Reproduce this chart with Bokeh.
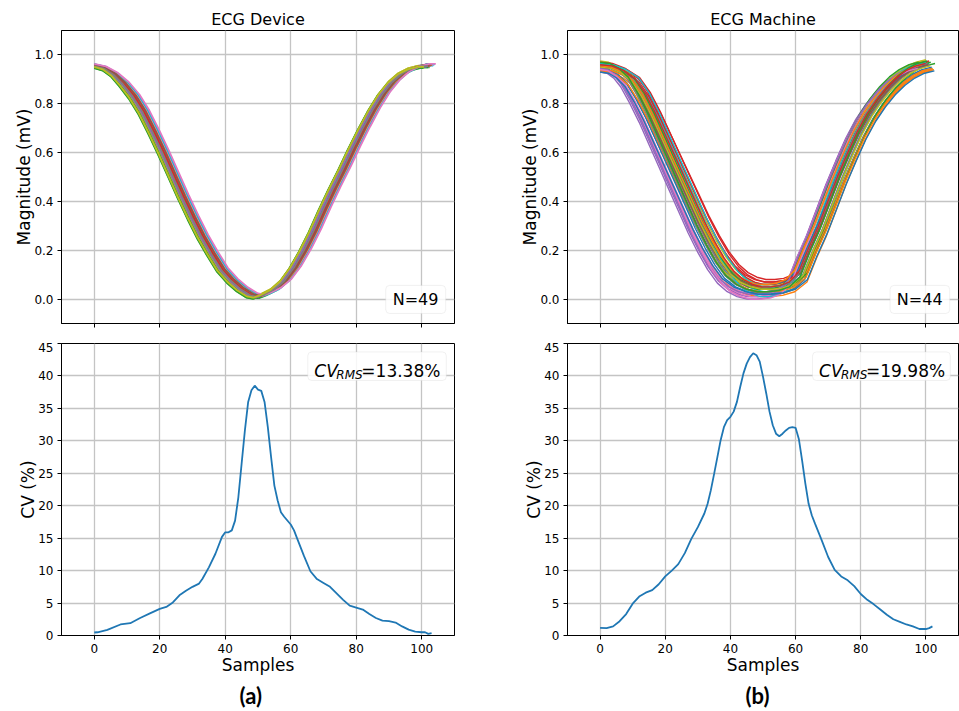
import numpy as np
from bokeh.plotting import figure
from bokeh.layouts import gridplot
from bokeh.models import Range1d, FixedTicker, Label, BoxAnnotation, Title, PrintfTickFormatter
from bokeh.embed import file_html
from bokeh.resources import INLINE

# ---------------- data ----------------
TAB10 = ["#1f77b4", "#ff7f0e", "#2ca02c", "#d62728", "#9467bd",
         "#8c564b", "#e377c2", "#7f7f7f", "#bcbd22", "#17becf"]

x_ticks = [0, 20, 40, 60, 80, 100]
mag_ticks = [0.0, 0.2, 0.4, 0.6, 0.8, 1.0]
cv_ticks = [0, 5, 10, 15, 20, 25, 30, 35, 40, 45]

# ECG Device: typical beat template (mV)
dev_base_x = [0, 3, 6, 9, 12, 15, 18, 21, 24, 27, 30, 33, 36, 39, 42, 45, 48, 50,
              52, 55, 58, 61, 64, 67, 70, 73, 76, 79, 82, 85, 88, 91, 94, 97, 100, 102]
dev_base_y = [0.955, 0.945, 0.92, 0.88, 0.83, 0.765, 0.685, 0.6, 0.51, 0.42, 0.335,
              0.255, 0.185, 0.12, 0.075, 0.04, 0.015, 0.01, 0.02, 0.04, 0.075, 0.13,
              0.2, 0.28, 0.37, 0.455, 0.535, 0.62, 0.7, 0.775, 0.84, 0.89, 0.925,
              0.945, 0.955, 0.955]
# per-beat lag on the falling / rising edge (samples) and level offset (mV)
dev_lag_down = [0.2, -0.6, -1.4, 0.5, 1.0, -0.3, 0.8, -0.9, -1.3, 1.2,
                -0.5, 0.4, 0.2, 0.9, -0.2, 0.6, -0.8, 1.1, -1.0, 1.3,
                0.7, -0.4, -1.5, 0.0, 1.3, -0.7, 0.5, 0.2, -1.1, 1.4,
                -0.1, 0.9, -0.3, 0.4, -0.6, 1.0, 1.2, -0.9, -1.2, 1.5,
                -0.3, 0.8, -1.2, 0.1, -0.5, 0.7, 1.8, -0.2, -1.4]
dev_lag_up = [0.4, -0.5, -1.6, 0.8, 1.3, -0.1, 1.0, -1.0, -1.2, 1.6,
              -0.4, 0.7, 0.4, 1.2, 0.1, 0.9, -0.9, 1.4, -1.2, 1.5,
              1.0, -0.2, -1.5, 0.2, 1.7, -0.8, 0.8, 0.4, -1.0, 1.9,
              0.1, 1.2, -0.1, 0.6, -0.5, 1.3, 1.4, -0.9, -1.0, 2.0,
              -0.2, 1.1, -1.3, 0.3, -0.6, 1.0, 2.3, 0.0, -1.3]
dev_level = [0.004, -0.003, -0.008, 0.002, 0.006, -0.001, 0.003, -0.005, 0.0, 0.005,
             -0.002, 0.001, -0.006, 0.004, -0.004, 0.002, -0.003, 0.005, -0.007, 0.001,
             0.003, -0.002, -0.009, 0.0, 0.006, -0.004, 0.002, 0.001, -0.005, 0.007,
             -0.001, 0.004, -0.006, 0.002, -0.003, 0.005, 0.003, -0.004, 0.001, 0.006,
             -0.002, 0.003, -0.005, 0.0, -0.002, 0.004, 0.008, -0.001, -0.004]

# ECG Machine: typical beat template (mV)
mac_base_x = [0, 3, 6, 9, 12, 15, 18, 21, 24, 27, 30, 33, 36, 39, 42, 45, 48, 51, 54,
              57, 60, 63, 66, 69, 72, 75, 78, 81, 84, 87, 90, 93, 96, 99]
mac_base_y = [0.955, 0.95, 0.93, 0.895, 0.83, 0.75, 0.66, 0.57, 0.48, 0.39, 0.3, 0.22,
              0.15, 0.095, 0.06, 0.04, 0.03, 0.03, 0.035, 0.05, 0.09, 0.19, 0.28,
              0.385, 0.49, 0.585, 0.675, 0.75, 0.81, 0.86, 0.9, 0.93, 0.95, 0.96]
mac_lag_down = [0.5, -1.5, 2.0, 3.5, -2.8, 1.0, -2.0, 0.0, 2.5, 1.5,
                -1.0, 1.8, -0.5, 3.6, -2.5, 0.8, -1.6, 0.3, 1.2, 2.8,
                -0.8, 2.2, 0.6, 3.0, -3.0, -0.2, -1.5, 1.4, -1.2, 2.4,
                1.0, -0.3, 1.6, 2.6, -2.6, 0.2, -1.8, -0.6, 0.9, 3.2,
                -1.5, 1.1, -0.4, 2.1]
mac_lag_up = [0.0, 3.5, -0.5, 1.5, -2.6, 0.5, -2.0, 1.0, 0.5, 2.0,
              3.0, 2.6, 2.5, 1.8, -2.3, -1.0, -1.6, 1.5, 0.0, 1.2,
              2.8, 3.0, 3.8, 0.8, -2.8, 0.3, -2.2, 2.2, 1.0, -0.5,
              0.6, 3.2, -1.2, 2.0, -2.0, 1.7, -1.5, 0.4, 2.4, 1.0,
              3.6, -0.3, 1.4, 0.9]
mac_floor = [0.0, -0.02, 0.01, 0.04, -0.02, 0.02, -0.03, 0.01, 0.03, -0.01,
             0.02, -0.01, 0.0, 0.05, -0.02, 0.01, -0.02, 0.02, 0.03, 0.0,
             -0.01, 0.01, 0.02, 0.03, -0.03, 0.0, -0.01, 0.01, 0.02, -0.02,
             0.03, 0.0, 0.01, 0.04, -0.01, 0.02, -0.03, 0.0, 0.01, 0.02,
             -0.01, 0.03, 0.0, 0.02]
mac_top = [0.95, 0.935, 0.96, 0.965, 0.94, 0.955, 0.945, 0.97, 0.95, 0.96,
           0.94, 0.93, 0.965, 0.955, 0.945, 0.95, 0.935, 0.96, 0.97, 0.955,
           0.945, 0.94, 0.96, 0.95, 0.93, 0.965, 0.94, 0.955, 0.975, 0.96,
           0.95, 0.935, 0.965, 0.97, 0.945, 0.955, 0.94, 0.96, 0.95, 0.965,
           0.93, 0.955, 0.97, 0.96]

# Coefficient of variation (%)
dev_cv_x = [0, 1, 4, 8, 11, 14, 17, 20, 22, 24, 26, 28, 30, 32, 33, 35, 37, 39, 40, 41,
            42, 43, 44, 45, 46, 47, 48, 49, 50, 51, 52, 53, 54, 55, 56, 57, 58, 60, 61, 62,
            64, 66, 68, 70, 72, 74, 76, 78, 80, 82, 84, 86, 88, 90, 92, 94, 96, 98, 100, 101,
            102, 103]
dev_cv_y = [0.46, 0.5, 0.87, 1.7, 1.9, 2.7, 3.4, 4.1, 4.4, 5.1, 6.2, 6.9, 7.5, 8.0, 8.7,
            10.5, 12.6, 15.2, 15.9, 15.9, 16.2, 17.7, 21.3, 26.5, 31.6, 36.0, 37.8, 38.5,
            37.9, 37.7, 36.0, 32.1, 27.5, 23.1, 20.8, 19.0, 18.3, 17.1, 16.2, 14.9, 12.3,
            9.9, 8.7, 8.1, 7.5, 6.5, 5.5, 4.6, 4.3, 4.0, 3.3, 2.7, 2.3, 2.2, 2.0, 1.4, 0.9,
            0.6, 0.5, 0.5, 0.26, 0.36]
mac_cv_x = [0, 2, 4, 6, 8, 10, 12, 14, 16, 18, 20, 22, 24, 26, 28, 30, 32, 33, 34, 35,
            36, 37, 38, 39, 40, 41, 42, 43, 44, 45, 46, 47, 48, 49, 50, 51, 52, 53, 54, 55,
            56, 57, 58, 59, 60, 61, 62, 63, 64, 65, 66, 68, 70, 72, 74, 76, 78, 80, 82, 84,
            86, 88, 90, 92, 94, 96, 98, 100, 101, 102]
mac_cv_y = [1.18, 1.13, 1.4, 2.2, 3.3, 4.9, 6.0, 6.6, 7.0, 7.9, 9.1, 10.0, 11.0, 12.7,
            14.9, 16.7, 18.8, 20.3, 22.4, 24.9, 27.5, 30.1, 32.1, 33.2, 33.7, 34.5, 36.0,
            38.3, 40.4, 41.9, 42.9, 43.5, 43.2, 42.2, 39.9, 37.3, 34.5, 32.4, 31.1, 30.7,
            31.1, 31.6, 32.0, 32.1, 32.0, 30.3, 27.0, 23.4, 20.3, 18.5, 17.2, 14.7, 12.1,
            10.1, 9.1, 8.5, 7.6, 6.4, 5.5, 4.8, 4.0, 3.2, 2.5, 2.1, 1.7, 1.4, 1.0, 1.0,
            1.13, 1.4]

titles = ["ECG Device", "ECG Machine"]
n_labels = ["N=49", "N=44"]
cv_values = ["=13.38%", "=19.98%"]
panel_tags = ["(a)", "(b)"]

FONT = "DejaVu Sans"


def style(p, ticks_y, fmt, show_xlabels):
    p.outline_line_color = "black"
    p.outline_line_alpha = 1
    p.outline_line_width = 1
    p.background_fill_color = "white"
    p.border_fill_color = "white"
    for ax in (p.xaxis[0], p.yaxis[0]):
        ax.major_tick_out = 4
        ax.major_tick_in = 0
        ax.minor_tick_out = 0
        ax.minor_tick_in = 0
        ax.axis_line_color = "black"
        ax.major_tick_line_color = "black"
        ax.minor_tick_line_color = "black"
        ax.major_label_text_font = FONT
        ax.major_label_text_font_size = "12px"
        ax.major_label_text_color = "black"
        ax.axis_label_text_font = FONT
        ax.axis_label_text_font_size = "17px"
        ax.axis_label_text_font_style = "normal"
        ax.axis_label_text_color = "black"
        ax.major_label_standoff = 4
    p.yaxis.axis_label_standoff = -3
    p.yaxis.ticker = FixedTicker(ticks=ticks_y)
    p.yaxis.formatter = PrintfTickFormatter(format=fmt)
    if show_xlabels:
        p.xaxis.ticker = FixedTicker(ticks=x_ticks)
        p.xaxis.major_label_standoff = 4
        p.xaxis.axis_label_standoff = -1
    else:
        # tick marks only (no tick labels) on the shared x axis of the top row
        p.xaxis.ticker = FixedTicker(ticks=[], minor_ticks=x_ticks)
        p.xaxis.minor_tick_out = 4
    p.xgrid.ticker = FixedTicker(ticks=x_ticks)
    p.ygrid.ticker = FixedTicker(ticks=ticks_y)
    for g in (p.xgrid[0], p.ygrid[0]):
        g.grid_line_color = "#c4c4c4"
        g.grid_line_width = 1.3


def top_fig(col):
    w = 480 if col == 0 else 479
    p = figure(width=w, height=342, x_range=Range1d(-10, 110), y_range=Range1d(-0.1, 1.1),
               output_backend="svg", toolbar_location=None,
               min_border_left=61 if col == 0 else 87,
               min_border_right=26 if col == 0 else 1,
               min_border_top=30, min_border_bottom=19, title=titles[col])
    p.title.align = "center"
    p.title.text_font = FONT
    p.title.text_font_size = "16px"
    p.title.text_font_style = "normal"
    p.title.text_color = "black"
    p.title.standoff = 4
    style(p, mag_ticks, "%.1f", False)
    p.yaxis.axis_label = "Magnitude (mV)"
    return p


def bottom_fig(col):
    w = 480 if col == 0 else 479
    p = figure(width=w, height=369, x_range=Range1d(-10, 110), y_range=Range1d(0, 45),
               output_backend="svg", toolbar_location=None,
               min_border_left=61 if col == 0 else 87,
               min_border_right=26 if col == 0 else 1,
               min_border_top=1, min_border_bottom=76)
    style(p, cv_ticks, "%d", True)
    p.yaxis.axis_label = "CV (%)"
    p.xaxis.axis_label = "Samples"
    t = Title(text=panel_tags[col], align="left", text_font="Lato",
              text_font_size="22px", text_font_style="bold", text_color="black",
              text_line_height=1.0, standoff=5, offset=178)
    p.add_layout(t, "below")
    return p


# --- top-left: ECG Device beats
tl = top_fig(0)
bx = np.array(dev_base_x, dtype=float)
by = np.array(dev_base_y, dtype=float)
for i in range(len(dev_lag_down)):
    lag = np.interp(bx, [0, 10, 40, 60, 102], [0, dev_lag_down[i], dev_lag_down[i],
                                                dev_lag_up[i], dev_lag_up[i]])
    tl.line(bx + lag, by + dev_level[i], line_color=TAB10[i % 10], line_width=1.8)

# --- top-right: ECG Machine beats
tr = top_fig(1)
mx = np.array(mac_base_x, dtype=float)
my = np.array(mac_base_y, dtype=float)
mmin, mtop = min(mac_base_y), mac_base_y[0]
for i in range(len(mac_lag_down)):
    lag = np.interp(mx, [0, 10, 40, 60, 99], [0, mac_lag_down[i], mac_lag_down[i],
                                               mac_lag_up[i], mac_lag_up[i]])
    lo = mmin + mac_floor[i]
    yy = lo + (my - mmin) / (mtop - mmin) * (mac_top[i] - lo)
    tr.line(mx + lag, yy, line_color=TAB10[i % 10], line_width=1.4)

for p, n in ((tl, n_labels[0]), (tr, n_labels[1])):
    p.add_layout(BoxAnnotation(left=89.0, right=107.3, bottom=-0.059, top=0.056,
                               fill_color="white", fill_alpha=0.85,
                               line_color="#d0d0d0", line_width=1, border_radius=4))
    p.add_layout(Label(x=98.1, y=-0.001, text=n, text_align="center",
                       text_baseline="middle", text_font=FONT, text_font_size="16px",
                       text_color="black"))

# --- bottom: CV curves
bl = bottom_fig(0)
bl.line(dev_cv_x, dev_cv_y, line_color=TAB10[0], line_width=1.8)
br = bottom_fig(1)
br.line(mac_cv_x, mac_cv_y, line_color=TAB10[0], line_width=1.8)

for p, v in ((bl, cv_values[0]), (br, cv_values[1])):
    p.add_layout(BoxAnnotation(left=65.2, right=107.5, bottom=39.3, top=43.7,
                               fill_color="white", fill_alpha=0.85,
                               line_color="#d0d0d0", line_width=1, border_radius=4))
    p.add_layout(Label(x=67.2, y=40.75, text="CV", text_align="left",
                       text_baseline="alphabetic", text_font=FONT,
                       text_font_size="17px", text_font_style="italic", text_color="black"))
    p.add_layout(Label(x=67.2, y=40.15, x_offset=22, text="RMS", text_align="left",
                       text_baseline="alphabetic", text_font=FONT,
                       text_font_size="12px", text_font_style="italic", text_color="black"))
    p.add_layout(Label(x=67.2, y=40.75, x_offset=47, text=v, text_align="left",
                       text_baseline="alphabetic", text_font=FONT,
                       text_font_size="17px", text_color="black"))

grid = gridplot([[tl, tr], [bl, br]], toolbar_location=None)

open("out.html", "w").write(file_html(grid, INLINE))
